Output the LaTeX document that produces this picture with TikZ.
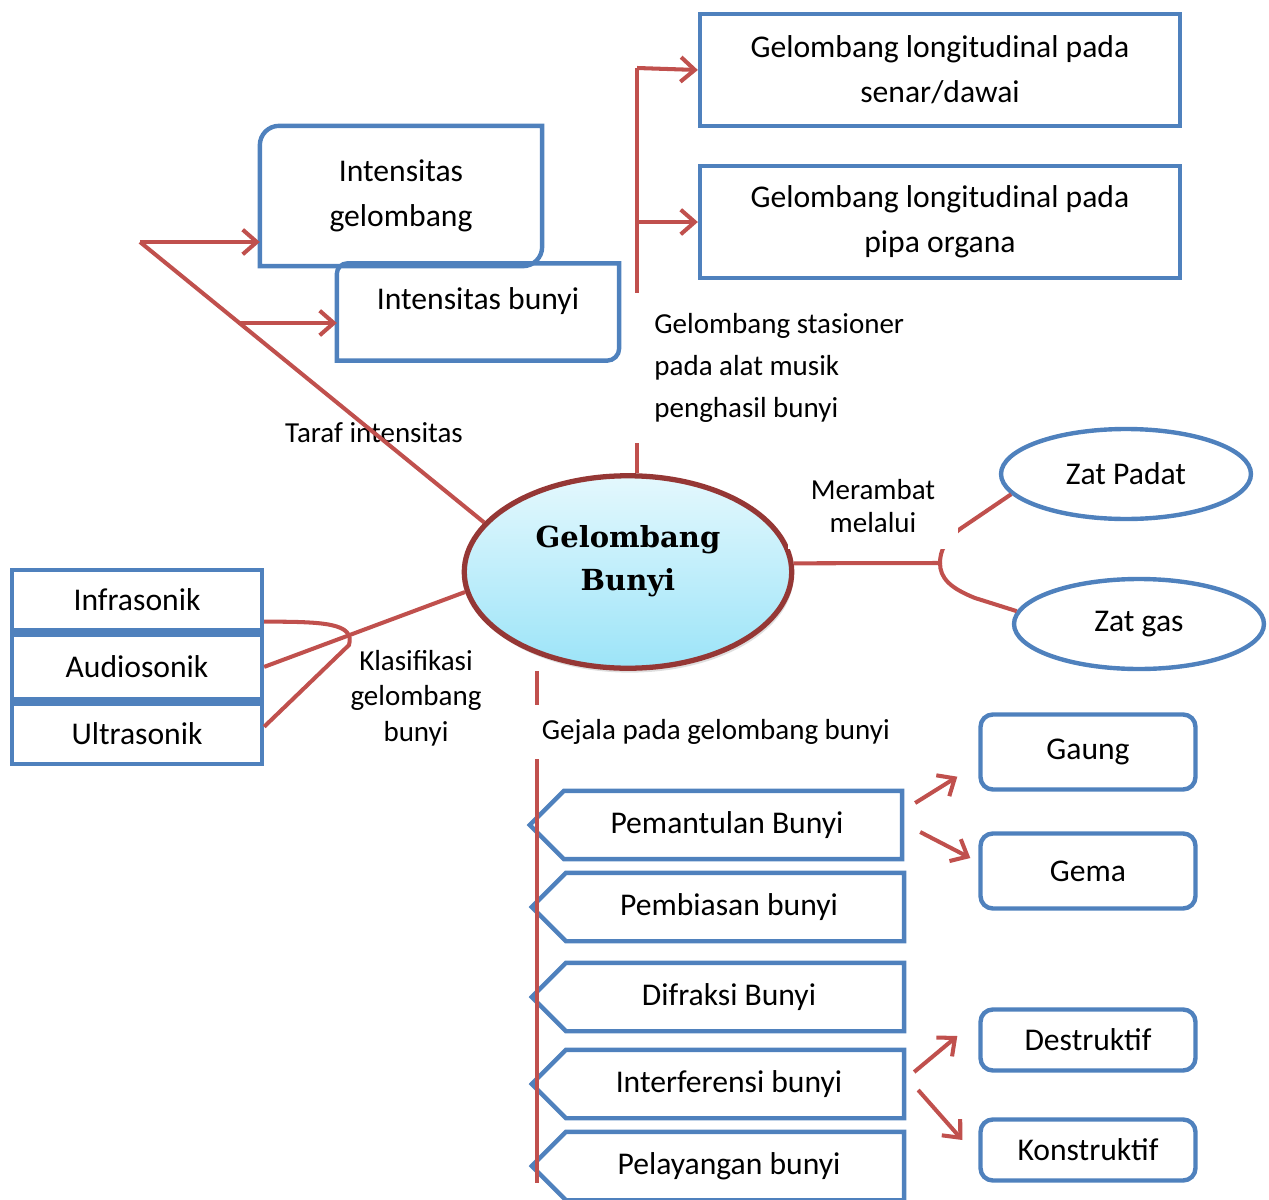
\documentclass[tikz,border=0pt]{standalone}
\usepackage{fontspec}
\setmainfont{Carlito}
\newfontfamily\headfont{DejaVu Serif}
\usepackage{xcolor}
\usetikzlibrary{arrows.meta,positioning,shapes.geometric,shadows}
\definecolor{linkred}{RGB}{192,80,77}
\definecolor{boxblue}{RGB}{79,129,189}
\definecolor{rimred}{RGB}{149,55,53}
\definecolor{topcyan}{RGB}{228,248,253}
\definecolor{botcyan}{RGB}{156,228,248}

\begin{document}
\begin{tikzpicture}[
		x=0.02cm, y=-0.02cm,
		node distance=0pt,
		block/.style={
			rectangle,
			draw=boxblue,
			line width=2.5pt,
			align=center,
			font=\fontsize{18}{25.5}\selectfont
		},
		roundblock/.style={block, rounded corners=7pt, minimum width=4.3cm},
		tagblock/.style={
			block,
			draw=none,
			minimum width=6.92cm,
			minimum height=1.28cm
		},
		outline/.style={boxblue, line width=2.5pt},
		oval/.style={
			ellipse,
			draw=boxblue,
			line width=2.5pt,
			minimum width=5cm,
			minimum height=1.8cm,
			font=\fontsize{18}{25.5}\selectfont
		},
		note/.style={align=left, font=\fontsize{16.5}{23.8}\selectfont},
		link/.style={draw=linkred, line width=2.3pt},
		arrow/.style={link, -{Straight Barb[length=8pt, width=14pt]}}
		]
		\useasboundingbox (0,0) rectangle (1269,1200);

		\node[ellipse, draw=rimred, line width=3pt, top color=topcyan, bottom color=botcyan,
			drop shadow={opacity=0.25, shadow xshift=1pt, shadow yshift=-2.5pt},
			minimum width=6.55cm, minimum height=3.85cm, align=center, text depth=16pt,
			font=\headfont\bfseries\fontsize{16.5}{24.4}\selectfont] (gb) at (628,572) {Gelombang\\Bunyi};

		\node[block, minimum width=9.6cm, minimum height=2.25cm] (senar) at (940,70) {Gelombang longitudinal pada\\senar/dawai};
		\node[block, minimum width=9.6cm, minimum height=2.25cm] (pipa) at (940,222) {Gelombang longitudinal pada\\pipa organa};

		\node[block, draw=none, minimum width=5.56cm, minimum height=2.72cm] (igel) at (401,196) {Intensitas\\gelombang};
		\node[block, draw=none, minimum width=5.56cm, minimum height=1.86cm, text depth=15pt] (ibun) at (478,312) {Intensitas bunyi};
		\draw[outline] (igel.south west) -- ([yshift=-11pt]igel.north west) arc[start angle=180, end angle=90, radius=11pt]
			-- (igel.north east) -- ([yshift=11pt]igel.south east) arc[start angle=0, end angle=-90, radius=11pt] -- cycle;
		\draw[outline] (ibun.south west) -- ([yshift=-6pt]ibun.north west) arc[start angle=180, end angle=90, radius=6pt]
			-- (ibun.north east) -- ([yshift=7pt]ibun.south east) arc[start angle=0, end angle=-90, radius=7pt] -- cycle;

		\node[block, minimum width=5cm, minimum height=1.2cm] (infra) at (137,600) {Infrasonik};
		\node[block, minimum width=5cm, minimum height=1.3cm, below=of infra] (audio) {Audiosonik};
		\node[block, minimum width=5cm, minimum height=1.2cm, below=of audio] (ultra) {Ultrasonik};

		\node[oval] (padat) at (1126,474) {Zat Padat};
		\node[oval] (gas) at (1139,624) {Zat gas};

		\node[tagblock] (pem) at (727,825) {Pemantulan Bunyi};
		\node[tagblock] (bias) at (729,907) {Pembiasan bunyi};
		\node[tagblock] (dif) at (729,997) {Difraksi Bunyi};
		\node[tagblock] (intf) at (729,1084) {Interferensi bunyi};
		\node[tagblock] (layang) at (729,1166) {Pelayangan bunyi};
		\foreach \n in {pem,bias,dif,intf,layang}
			\draw[outline] (\n.north east) -- ([shift={(12,0)}]\n.north west) -- ([shift={(-22,0)}]\n.west)
				-- ([shift={(12,0)}]\n.south west) -- (\n.south east) -- cycle;

		\node[roundblock, minimum height=1.5cm] (gaung) at (1088,752) {Gaung};
		\node[roundblock, minimum height=1.5cm] (gema) at (1088,871) {Gema};
		\node[roundblock, minimum height=1.22cm] (destr) at (1088,1040) {Destruktif};
		\node[roundblock, minimum height=1.22cm] (konstr) at (1088,1150) {Konstruktif};

		\coordinate (stop) at (637,68);
		\coordinate (smid) at (637,222);
		\draw[link] (gb.north -| stop) -- (stop);
		\draw[arrow] (stop) -- (senar.west);
		\draw[arrow] (smid) -- (pipa.west);
		\node[note, fill=white, inner xsep=12pt, inner ysep=12pt, anchor=west] (stas) at (633,368) {Gelombang stasioner\\pada alat musik\\penghasil bunyi};

		\coordinate (ttop) at (140,242);
		\coordinate (tmid) at (238,323);
		\node[note] (taraf) at (374,433) {Taraf intensitas};
		\draw[link] (ttop) -- (gb.161);
		\draw[arrow] (ttop) -- (ttop -| igel.west);
		\draw[arrow] (tmid) -- (tmid -| ibun.west);

		\coordinate (kbend) at (349,645);
		\node[note, align=center, font=\fontsize{16.5}{20.2}\selectfont] (klas) at (416,698) {Klasifikasi\\gelombang\\bunyi};
		\draw[link] (gb.187) -- (audio.east);
		\draw[link] ([yshift=6pt]infra.south east) .. controls +(60,0) and +(6,-22) .. (kbend) -- ([yshift=4pt]ultra.east);

		\coordinate (mfork) at (940,563);
		\draw[link] (gb.3) -- (mfork) .. controls (940,550) and (946,540) .. (960,529) -- (padat.190);
		\draw[link] (mfork) .. controls (940,578) and (950,588) .. (975,598) -- (gas.174);
		\node[note, align=center, fill=white, inner xsep=13pt, inner ysep=9pt, font=\fontsize{16.5}{19.3}\selectfont] (meramb) at (873,506) {Merambat\\melalui};

		\coordinate (gbot) at (537,1183);
		\draw[link] (gb.south -| gbot) -- (gbot);
		\node[note, fill=white, inner xsep=6pt, inner ysep=8pt, anchor=west] (gejala) at (531,732) {Gejala pada gelombang bunyi};

		\draw[arrow] ([shift={(13,-22)}]pem.east) -- ([shift={(-21,-15)}]gaung.south west);
		\draw[arrow] ([shift={(18,7)}]pem.east) -- ([shift={(-8,-13)}]gema.west);
		\draw[arrow] ([shift={(10,-12)}]intf.east) -- ([shift={(-21,-4)}]destr.west);
		\draw[arrow] ([shift={(14,6)}]intf.east) -- ([shift={(-16,-10)}]konstr.west);
	\end{tikzpicture}
\end{document}
